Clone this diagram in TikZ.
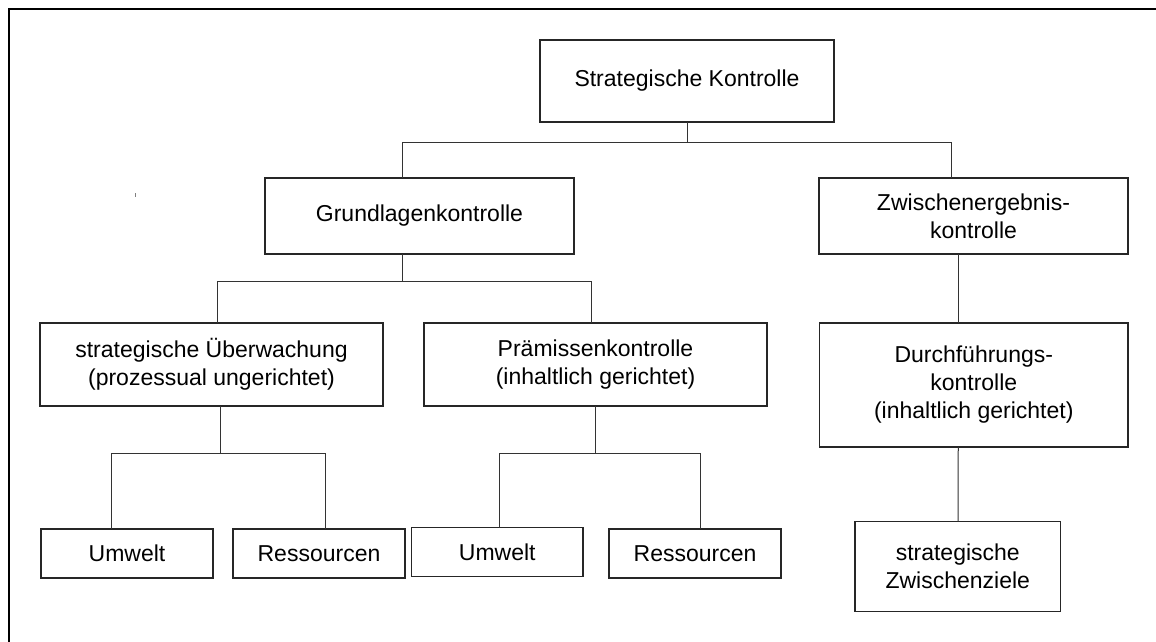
\documentclass[tikz,border=0pt]{standalone}
\usepackage{fontspec}
\setmainfont{Liberation Sans}
\begin{document}
\begin{tikzpicture}[x=1pt,y=-1pt,
  box/.style={draw=black!85, line width=1.1pt, rectangle, inner sep=0pt, outer sep=0pt,
    align=center, font=\fontsize{23}{28}\selectfont},
  link/.style={draw=black!80, line width=1pt}]
\useasboundingbox (0,0) rectangle (1156,642);
% frame
\draw[line width=2pt] (9,642) -- (9,9) -- (1156,9);
\draw[gray, line width=0.8pt] (135,193) -- (135,197);

% boxes
\node[box, minimum width=294pt, minimum height=82pt] (root) at (687,81) {Strategische Kontrolle};
\node[box, minimum width=309pt, minimum height=76pt] (grund) at (419.5,216) {Grundlagenkontrolle};
\node[box, minimum width=309pt, minimum height=76pt] (zwisch) at (973.5,216) {Zwischenergebnis-\\kontrolle};
\node[box, minimum width=343pt, minimum height=83pt] (ueber) at (211.5,364.5) {strategische Überwachung\\(prozessual ungerichtet)};
\node[box, minimum width=343pt, minimum height=83pt] (praem) at (595.5,364.5) {Prämissenkontrolle\\(inhaltlich gerichtet)};
\node[box, minimum width=308.5pt, minimum height=124pt] (durch) at (973.75,385) {Durchführungs-\\kontrolle\\(inhaltlich gerichtet)};
\node[box, minimum width=172pt, minimum height=49pt] (umwA) at (127,553.5) {Umwelt};
\node[box, minimum width=172pt, minimum height=49pt] (resA) at (319,553.5) {Ressourcen};
\node[box, minimum width=171.4pt, minimum height=48.6pt] (umwB) at (497.3,552) {Umwelt};
\node[box, minimum width=172pt, minimum height=49pt] (resB) at (695,553.5) {Ressourcen};
\node[box, minimum width=205.5pt, minimum height=90pt] (ziele) at (957.75,566.7) {strategische\\Zwischenziele};

% bus levels
\coordinate (bus1) at (0,142.5);
\coordinate (bus2) at (0,281);
\coordinate (bus3) at (0,453);

% attachment points
\coordinate (grundIn) at ([xshift=-17.5pt]grund.north);
\coordinate (zwischIn) at ([xshift=-22.5pt]zwisch.north);
\coordinate (grundOut) at ([xshift=-17.5pt]grund.south);
\coordinate (ueberIn) at ([xshift=5.5pt]ueber.north);
\coordinate (praemIn) at ([xshift=-4.5pt]praem.north);
\coordinate (ueberOut) at ([xshift=9pt]ueber.south);
\coordinate (praemOut) at ([xshift=-0.5pt]praem.south);
\coordinate (umwAIn) at ([xshift=-16pt]umwA.north);
\coordinate (resAIn) at ([xshift=6pt]resA.north);
\coordinate (umwBIn) at ([xshift=1.7pt]umwB.north);
\coordinate (resBIn) at ([xshift=5.5pt]resB.north);
\coordinate (zwischOut) at ([xshift=-15.5pt]zwisch.south);
\coordinate (durchIn) at ([xshift=-15.75pt]durch.north);
\coordinate (durchOut) at ([xshift=-15.5pt]durch.south);
\coordinate (zieleIn) at ([xshift=0.25pt]ziele.north);

% connectors
\draw[link] (root.south) -- (root.south |- bus1);
\draw[link] (grundIn) |- (zwischIn |- bus1) -- (zwischIn);

\draw[link] (grundOut) -- (grundOut |- bus2);
\draw[link] (ueberIn) |- (praemIn |- bus2) -- (praemIn);

\draw[link] (ueberOut) -- (ueberOut |- bus3);
\draw[link] (umwAIn) |- (resAIn |- bus3) -- (resAIn);

\draw[link] (praemOut) -- (praemOut |- bus3);
\draw[link] (umwBIn) |- (resBIn |- bus3) -- (resBIn);

\draw[link] (zwischOut) -- (durchIn);
\draw[link] (durchOut) -- (zieleIn);
\end{tikzpicture}
\end{document}
